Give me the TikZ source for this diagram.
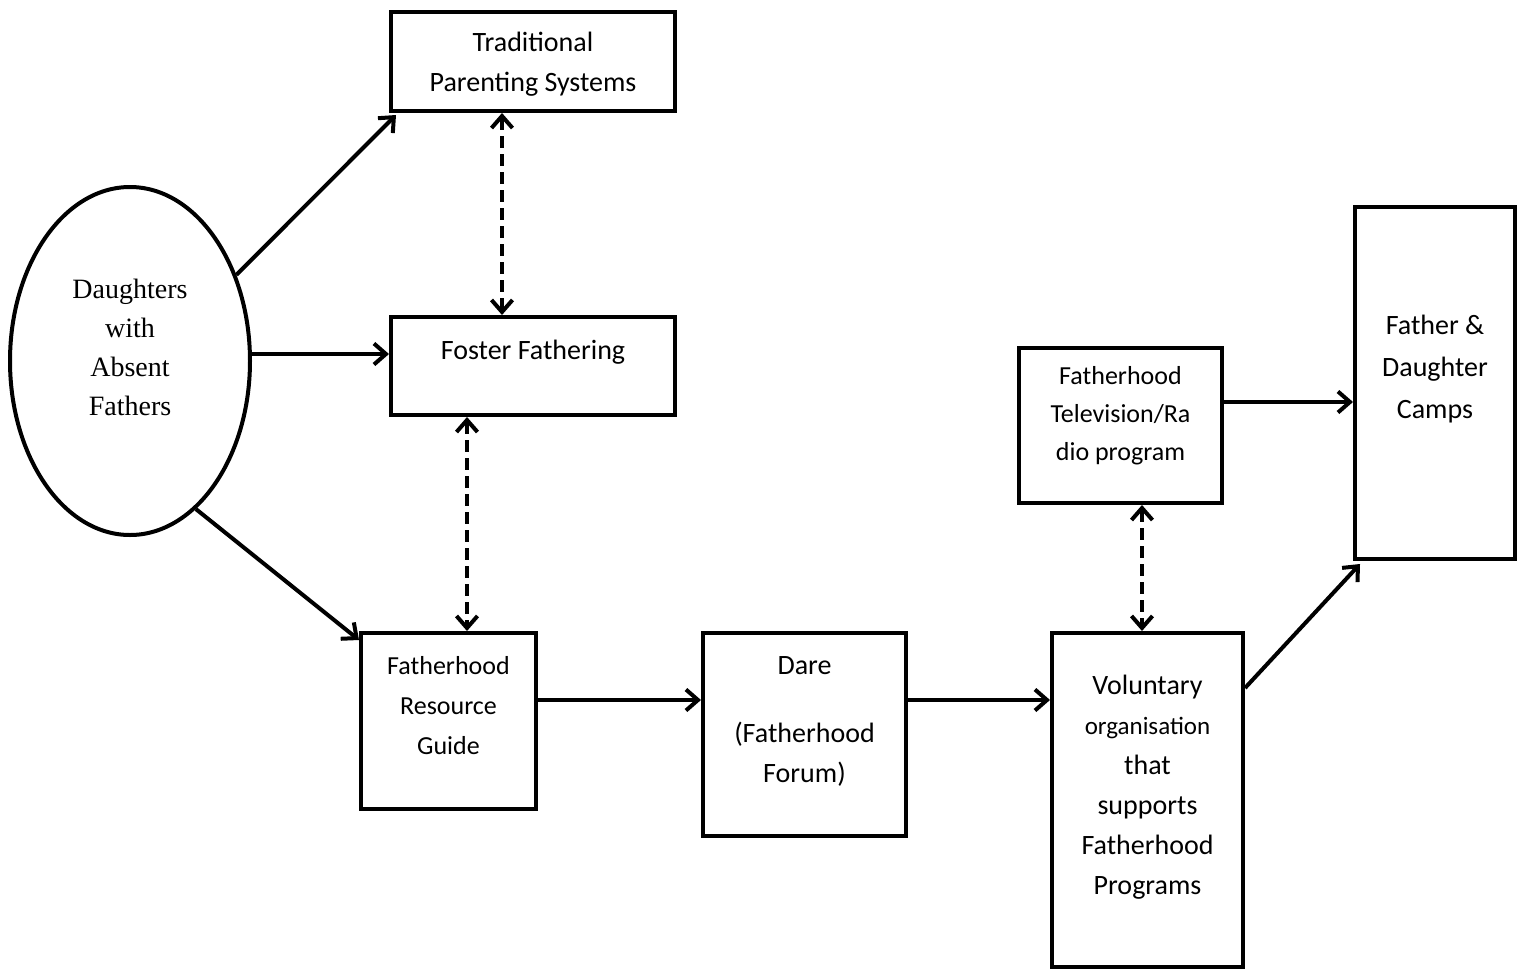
\documentclass[tikz,border=0pt]{standalone}
\usepackage{fontspec}
\setmainfont{Carlito}
\newfontfamily\serifA{Liberation Serif}
\usetikzlibrary{arrows.meta,shapes.geometric}
\begin{document}
\begin{tikzpicture}[x=0.5pt,y=-0.5pt,
  box/.style={draw,line width=2pt,inner sep=0pt},
  lbl/.style={inner sep=0pt,align=center,font=\fontsize{14pt}{20pt}\selectfont},
  arr/.style={line width=2pt,-{Straight Barb[length=6pt,width=10.5pt,line width=2pt]}},
  dbl/.style={line width=2pt,dash pattern=on 6pt off 3pt,{Straight Barb[length=6pt,width=10.5pt,line width=2pt]}-{Straight Barb[length=6pt,width=10.5pt,line width=2pt]}}]
\useasboundingbox (0,0) rectangle (1525,969);
\fill[white] (0,0) rectangle (1525,969);

% shapes
\node[draw,ellipse,line width=2pt,inner sep=0pt,minimum width=120pt,minimum height=174pt] (ell) at (130,361) {};
\node[box,minimum width=142pt,minimum height=49.5pt] (trad) at (533,61.5) {};
\node[box,minimum width=142pt,minimum height=49pt] (foster) at (533,366) {};
\node[box,minimum width=87.5pt,minimum height=88pt] (frg) at (448.5,721) {};
\node[box,minimum width=101.5pt,minimum height=101.5pt] (dare) at (804.5,734.5) {};
\node[box,minimum width=95.5pt,minimum height=167pt] (vol) at (1147.5,800) {};
\node[box,minimum width=101.5pt,minimum height=77.5pt] (tv) at (1120.5,425.5) {};
\node[box,minimum width=80pt,minimum height=176pt] (camps) at (1435,383) {};

% texts
\node[inner sep=0pt,align=center,font=\serifA\fontsize{14pt}{19.5pt}\selectfont] (tEll) at (130,347) {Daughters\\with\\Absent\\Fathers};
\node[lbl] (tTrad) at (533,64) {Traditional\\Parenting Systems};
\node[lbl] (tFoster) at (533,352) {Foster Fathering};
\node[lbl,font=\fontsize{13pt}{20pt}\selectfont] (tFrg) at (448.5,706) {Fatherhood\\Resource\\Guide};
\node[lbl] (tDare) at (804.5,721) {Dare\\[14pt](Fatherhood\\Forum)};
\node[lbl] (tVol) at (1147.5,787) {Voluntary\\{\fontsize{12.5pt}{20pt}\selectfont organisation}\\that\\supports\\Fatherhood\\Programs};
\node[lbl,font=\fontsize{13pt}{19pt}\selectfont] (tTv) at (1120.5,416) {Fatherhood\\Television/Ra\\dio program};
\node[lbl,font=\fontsize{14pt}{21pt}\selectfont] (tCamps) at (1435,369) {Father \&\\Daughter\\Camps};

% connectors
\draw[arr] (ell.39) -- ([xshift=3.5pt,yshift=-1pt]trad.south west);
\draw[arr] ([yshift=3.5pt]ell.east) -- ([yshift=3.5pt]ell.east -| foster.west);
\draw[arr] (ell.-66) -- ([yshift=-4.5pt]frg.north west);
\draw[dbl] ([xshift=-15.5pt]trad.south) -- ([xshift=-15.5pt]foster.north);
\draw[dbl] ([xshift=-33pt]foster.south) -- ([xshift=-33pt]foster.south |- frg.north);
\draw[arr] ([yshift=10.5pt]frg.east) -- ([yshift=10.5pt]frg.east -| dare.west);
\draw[arr] ([yshift=17.25pt]dare.east) -- ([yshift=17.25pt]dare.east -| vol.west);
\draw[dbl] ([xshift=10.75pt]tv.south) -- ([xshift=10.75pt]tv.south |- vol.north);
\draw[arr] ([yshift=11.75pt]tv.east) -- ([yshift=11.75pt]tv.east -| camps.west);
\draw[arr] ([yshift=-28.5pt]vol.north east) -- ([xshift=3.5pt,yshift=-1.5pt]camps.south west);
\end{tikzpicture}
\end{document}
